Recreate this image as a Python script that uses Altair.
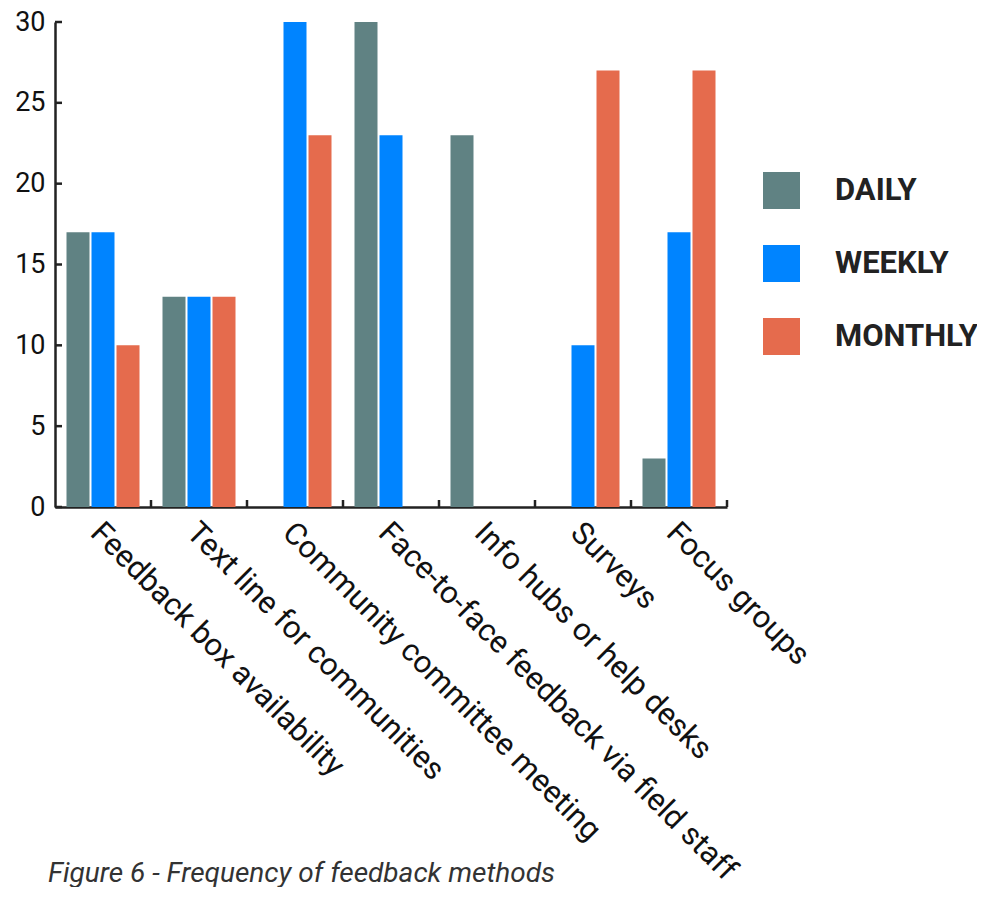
import altair as alt
import pandas as pd

categories = ["Feedback box availability", "Text line for communities",
              "Community committee meeting", "Face-to-face feedback via field staff",
              "Info hubs or help desks", "Surveys", "Focus groups"]
series = ["DAILY", "WEEKLY", "MONTHLY"]
daily = [17, 13, 0, 30, 23, 0, 3]
weekly = [17, 13, 30, 23, 0, 10, 17]
monthly = [10, 13, 23, 0, 0, 27, 27]
colors = ["#608283", "#0084ff", "#e56b4d"]
y_ticks = [0, 5, 10, 15, 20, 25, 30]
caption = "Figure 6 - Frequency of feedback methods"

rows = []
for s, vals in zip(series, [daily, weekly, monthly]):
    for c, v in zip(categories, vals):
        if v > 0:
            rows.append({"cat": c, "series": s, "value": v})
df = pd.DataFrame(rows)

W, H = 672, 485
FONT = "Roboto"
AX = "#222222"

x_scale = alt.Scale(domain=categories, paddingInner=0, paddingOuter=0)
y_scale = alt.Scale(domain=[0, 30], nice=False)

x_axis = alt.Axis(labelAngle=45, labelAlign="left", labelBaseline="top",
                  labelFontSize=31, labelFont=FONT, labelColor="#111",
                  labelPadding=10, labelOffset=3, ticks=False, domainColor=AX,
                  domainWidth=2.5, labelLimit=900, title=None)
y_axis = alt.Axis(values=y_ticks, ticks=False, grid=False, domainColor=AX,
                  domainWidth=2.5, labelFontSize=27, labelFont=FONT,
                  labelColor="#111", labelPadding=10, title=None)

bars = alt.Chart(df).mark_bar().encode(
    x=alt.X("cat:N", scale=x_scale, sort=categories, axis=x_axis),
    xOffset=alt.XOffset("series:N", sort=series,
                        scale=alt.Scale(domain=series, paddingInner=0.08, paddingOuter=0.46)),
    y=alt.Y("value:Q", scale=y_scale, axis=y_axis),
    color=alt.Color("series:N", sort=series,
                    scale=alt.Scale(domain=series, range=colors),
                    legend=alt.Legend(title=None, orient="none", legendX=708, legendY=150,
                                      symbolType="square", symbolSize=1369,
                                      symbolStrokeWidth=0, labelFontSize=31,
                                      labelFontWeight="bold", labelFont=FONT,
                                      labelColor="#222", labelOffset=35,
                                      rowPadding=36)),
)

xticks = alt.Chart(pd.DataFrame({"cat": categories})).mark_rule(
    color=AX, strokeWidth=2.5).encode(
    x=alt.X("cat:N", bandPosition=1, scale=x_scale, sort=categories, axis=x_axis),
    y=alt.value(H), y2=alt.value(H - 7),
)

yticks = alt.Chart(pd.DataFrame({"value": y_ticks})).mark_tick(
    color=AX, orient="horizontal", size=7, thickness=2.5, opacity=1).encode(
    y=alt.Y("value:Q", scale=y_scale, axis=y_axis),
    x=alt.value(3.5),
)

cap = alt.Chart(pd.DataFrame({"t": [caption]})).mark_text(
    align="left", baseline="middle", fontSize=28, font=FONT, fontStyle="italic",
    color="#333").encode(
    text="t:N", x=alt.value(-7), y=alt.value(852),
)

chart = alt.layer(bars, xticks, yticks, cap).properties(
    width=W, height=H, background="white",
    autosize=alt.AutoSizeParams(type="none"),
    padding={"left": 47, "top": 14, "right": 250, "bottom": 380}
).configure_view(stroke=None)

chart.save("out.html", embed_options={"renderer": "svg", "actions": False})
